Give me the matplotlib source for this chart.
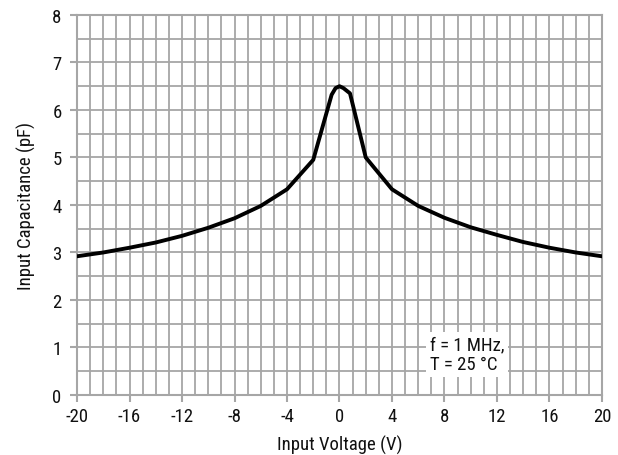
import matplotlib
matplotlib.use("Agg")
import matplotlib.pyplot as plt
from matplotlib import font_manager

names = {f.name for f in font_manager.fontManager.ttflist}
fam = [n for n in ["Liberation Sans Narrow", "Roboto Condensed", "Roboto", "DejaVu Sans"] if n in names]
plt.rcParams['font.family'] = fam

voltage = [-20, -18, -16, -14, -12, -10, -8, -6, -4, -2, -0.6, -0.3, 0, 0.3, 0.8, 2, 4, 6, 8, 10, 12, 14, 16, 18, 20]
capacitance = [2.92, 3.0, 3.1, 3.21, 3.35, 3.52, 3.72, 3.98, 4.33, 4.95, 6.32, 6.46, 6.5, 6.46, 6.35, 5.0, 4.33, 3.98, 3.73, 3.53, 3.37, 3.22, 3.1, 3.0, 2.92]
xticks = [-20, -16, -12, -8, -4, 0, 4, 8, 12, 16, 20]
yticks = [0, 1, 2, 3, 4, 5, 6, 7, 8]

fig = plt.figure(figsize=(6.18, 4.56), dpi=100)
ax = fig.add_axes([0.1246, 0.1316, 0.8495, 0.8334])
gc = '#a6a6a6'
for v in range(-19, 20):
    ax.axvline(v, color=gc, lw=1.3, zorder=1)
for h in [i * 0.5 for i in range(1, 16)]:
    ax.axhline(h, color=gc, lw=1.3, zorder=1)
ax.plot(voltage, capacitance, color='black', lw=2.8, zorder=3, solid_joinstyle='round')
ax.set_xlim(-20, 20)
ax.set_ylim(0, 8)
ax.set_xticks(xticks)
ax.set_xticklabels([str(t) for t in xticks])
ax.set_yticks(yticks)
for s in ax.spines.values():
    s.set_color(gc)
    s.set_linewidth(1.5)
ax.tick_params(axis='both', colors=gc, labelcolor='#111111', labelsize=13.5, length=5, width=1.5, direction='out')
ax.tick_params(axis='y', pad=6)
ax.set_xlabel('Input Voltage (V)', fontsize=13.5, color='#111111', labelpad=7)
ax.set_ylabel('Input Capacitance (pF)', fontsize=13.5, color='#111111', labelpad=12)
ax.text(6.9, 1.25, 'f = 1 MHz,\nT = 25 °C', fontsize=13.5, va='top', ha='left', color='#111111',
        linespacing=1.1, zorder=4,
        bbox=dict(boxstyle='square,pad=0.2', facecolor='white', edgecolor='none'))
fig.savefig('out.png', dpi=100)
